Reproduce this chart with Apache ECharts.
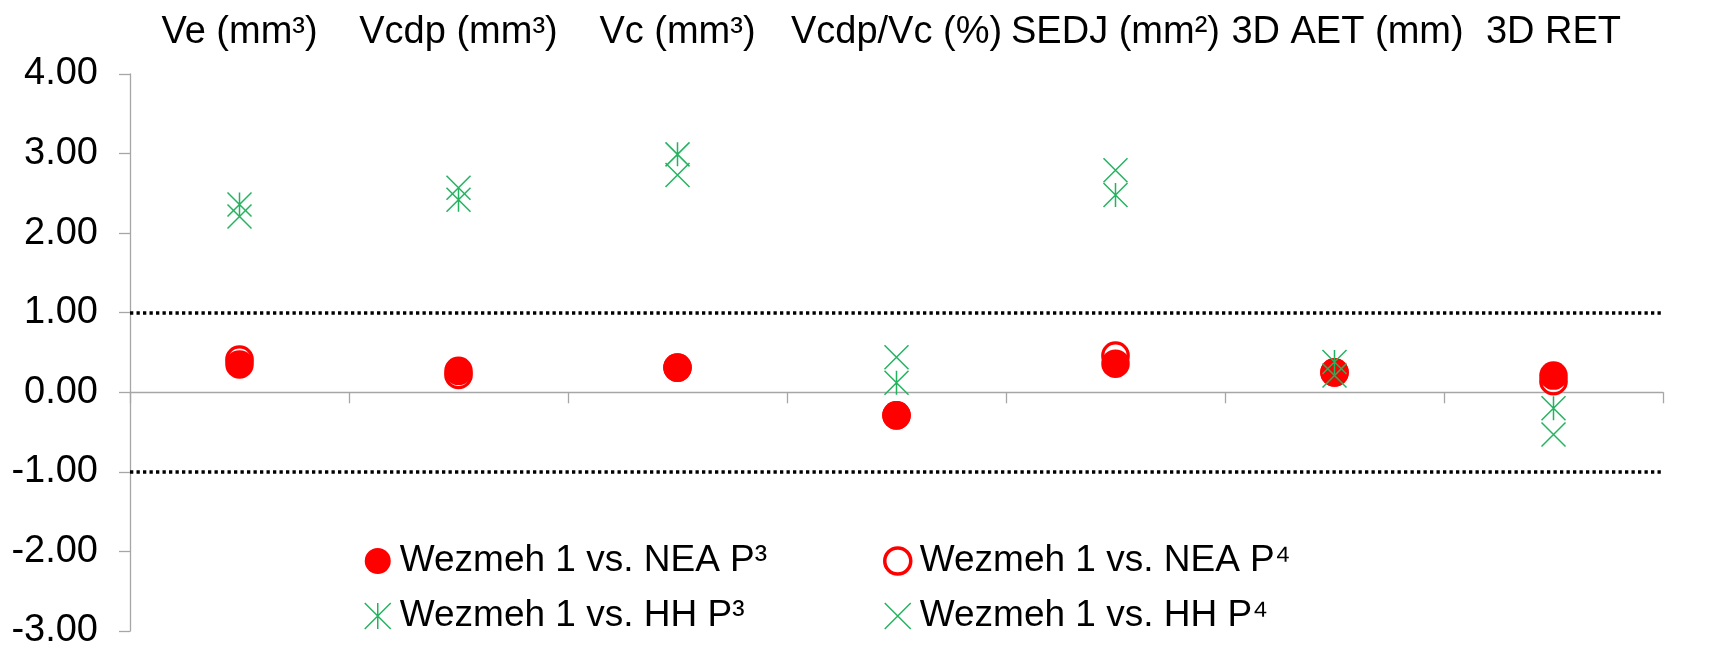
<!DOCTYPE html>
<html>
<head>
<meta charset="utf-8">
<script src="https://cdn.jsdelivr.net/npm/echarts@6/dist/echarts.min.js"></script>
<style>html,body{margin:0;padding:0;background:#fff;}#c{width:1713px;height:650px;}</style>
</head>
<body>
<div id="c"></div>
<script>
const categories = ['Ve (mm³)', 'Vcdp (mm³)', 'Vc (mm³)', 'Vcdp/Vc (%)', 'SEDJ (mm²)', '3D AET (mm)', '3D RET'];
const neaP3 = [0.35, 0.27, 0.31, -0.29, 0.36, 0.25, 0.21];
const neaP4 = [0.41, 0.22, 0.31, -0.29, 0.46, 0.25, 0.14];
const hhP3 = [2.36, 2.42, 2.99, 0.12, 2.48, 0.38, -0.20];
const hhP4 = [2.21, 2.57, 2.73, 0.44, 2.79, 0.21, -0.53];
const seriesNames = ['Wezmeh 1 vs. NEA P³', 'Wezmeh 1 vs. NEA P⁴', 'Wezmeh 1 vs. HH P³', 'Wezmeh 1 vs. HH P⁴'];
const thresholds = [1, -1];
const yMin = -3, yMax = 4, yStep = 1;

const RED = '#FF0000';
const GREEN = '#22B35E';
const FONT = "'Liberation Sans', Arial, sans-serif";
const starPath = 'path://M0,0L10,10M10,0L0,10M5,0L5,10';
const xPath = 'path://M0,0L10,10M10,0L0,10';

const topLabels = categories.map(c => c === '3D AET (mm)'
  ? {value: c, textStyle: {padding: [0, 0, 0, 26]}}
  : c);

const chart = echarts.init(document.getElementById('c'), null, {renderer: 'canvas'});
const legendText = {color: '#000', fontSize: 37, fontFamily: FONT, lineHeight: 40, padding: [0, 0, 0, 4]};
chart.setOption({
  animation: false,
  backgroundColor: '#fff',
  grid: {left: 130, right: 50, top: 74, bottom: 14.5, containLabel: false},
  xAxis: [{
    type: 'category', data: categories, position: 'bottom',
    axisLine: {show: true, onZero: true, lineStyle: {color: '#A6A6A6', width: 1.3}},
    axisTick: {show: true, length: 11, alignWithLabel: false, lineStyle: {color: '#A6A6A6', width: 1.3}},
    axisLabel: {show: false}, splitLine: {show: false}
  }, {
    type: 'category', data: topLabels, position: 'top',
    axisLine: {show: false}, axisTick: {show: false}, splitLine: {show: false},
    axisLabel: {show: true, interval: 0, margin: 22, color: '#000', fontSize: 38, fontFamily: FONT}
  }],
  yAxis: {
    type: 'value', min: yMin, max: yMax, interval: yStep,
    axisLine: {show: true, lineStyle: {color: '#A6A6A6', width: 1.3}},
    axisTick: {show: true, length: 11, lineStyle: {color: '#A6A6A6', width: 1.3}},
    splitLine: {show: false},
    axisLabel: {margin: 32, color: '#000', fontSize: 38, fontFamily: FONT, formatter: v => v.toFixed(2)}
  },
  legend: [{
    orient: 'vertical', left: 364, top: 541, padding: 0, itemGap: 15, itemWidth: 26, itemHeight: 26,
    textStyle: legendText,
    data: [
      {name: seriesNames[0], icon: 'circle', itemStyle: {color: RED, borderWidth: 0}},
      {name: seriesNames[2], icon: starPath, itemStyle: {color: 'rgba(0,0,0,0)', borderColor: GREEN, borderWidth: 1.5}}
    ]
  }, {
    orient: 'vertical', left: 883, top: 541, padding: 0, itemGap: 15, itemWidth: 26, itemHeight: 26,
    textStyle: legendText,
    data: [
      {name: seriesNames[1], icon: 'circle', itemStyle: {color: 'rgba(0,0,0,0)', borderColor: RED, borderWidth: 3.5}},
      {name: seriesNames[3], icon: xPath, itemStyle: {color: 'rgba(0,0,0,0)', borderColor: GREEN, borderWidth: 1.5}}
    ]
  }],
  series: [{
    name: seriesNames[0], type: 'scatter', xAxisIndex: 0, data: neaP3,
    symbol: 'circle', symbolSize: 28.5, itemStyle: {color: RED, opacity: 1},
    markLine: {
      silent: true, symbol: 'none', label: {show: false},
      lineStyle: {color: '#000', type: [3.3, 3.2], width: 3.6, cap: 'butt', opacity: 1},
      emphasis: {disabled: true},
      data: thresholds.map(t => ({yAxis: t}))
    }
  }, {
    name: seriesNames[1], type: 'scatter', xAxisIndex: 0, data: neaP4,
    symbol: 'circle', symbolSize: 25.5, itemStyle: {color: 'rgba(0,0,0,0)', borderColor: RED, borderWidth: 3.2, opacity: 1}
  }, {
    name: seriesNames[2], type: 'scatter', xAxisIndex: 0, data: hhP3,
    symbol: starPath, symbolSize: 24, itemStyle: {color: 'rgba(0,0,0,0)', borderColor: GREEN, borderWidth: 1.5, opacity: 1}
  }, {
    name: seriesNames[3], type: 'scatter', xAxisIndex: 0, data: hhP4,
    symbol: xPath, symbolSize: 24, itemStyle: {color: 'rgba(0,0,0,0)', borderColor: GREEN, borderWidth: 1.5, opacity: 1}
  }]
});
</script>
</body>
</html>
